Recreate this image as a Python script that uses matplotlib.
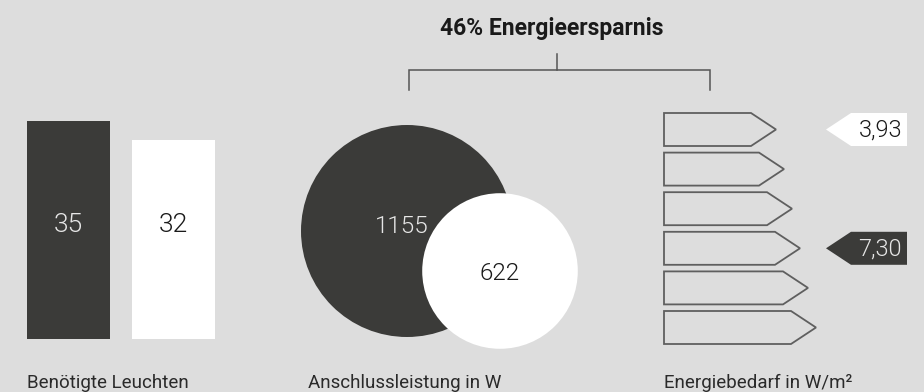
import matplotlib.pyplot as plt
from matplotlib.patches import Circle, Polygon
import numpy as np

# Leuchten (alt / neu)
leuchten = [35, 32]
# Anschlussleistung in W (alt / neu)
leistung = [1155, 622]
# Energiebedarf in W/m² und zugehörige Klassenzeile
bedarf = [3.93, 7.30]
bedarf_zeile = [0, 3]
n_klassen = 6
ersparnis = 46

BG = "#dddddd"
DARK = "#3b3b39"
LINE = "#555555"
W = 300  # leichte Schrift für Zahlen


def fmt(v):
    return f"{v:.2f}".replace(".", ",")


def main():
    plt.rcParams["font.family"] = ["Roboto", "DejaVu Sans"]

    fig = plt.figure(figsize=(9.24, 3.92), dpi=100, facecolor=BG)
    ax = fig.add_axes([0, 0, 1, 1])
    ax.set_facecolor(BG)
    ax.set_xlim(0, 924)
    ax.set_ylim(392, 0)
    ax.axis("off")

    # --- Balken: benötigte Leuchten
    base = 339
    px_per_unit = 218 / leuchten[0]
    xs = [68.5, 173.5]
    colors = [DARK, "white"]
    tcolors = ["#e6e6e6", "#1a1a1a"]
    for x, v, c, tc in zip(xs, leuchten, colors, tcolors):
        h = v * px_per_unit
        ax.bar(x, -h, bottom=base, width=83, color=c, linewidth=0)
        ax.text(x, 225, str(v), ha="center", va="center", fontsize=19,
                color=tc, fontweight=W)
    ax.text(27, 388, "Benötigte Leuchten", ha="left", va="baseline",
            fontsize=13.5, color="#2a2a2a")

    # --- Kreise: Anschlussleistung
    k = 106 / np.sqrt(leistung[0])
    centers = [(407, 231), (500, 271)]
    for (cx, cy), v, c in zip(centers, leistung, colors):
        ax.add_patch(Circle((cx, cy), k * np.sqrt(v), facecolor=c, edgecolor="none"))
    ax.text(402, 226, str(leistung[0]), ha="center", va="center", fontsize=17.5,
            color=tcolors[0], fontweight=W)
    ax.text(500, 273, str(leistung[1]), ha="center", va="center", fontsize=17.5,
            color=tcolors[1], fontweight=W)
    ax.text(308, 388, "Anschlussleistung in W", ha="left", va="baseline",
            fontsize=13.5, color="#2a2a2a")

    # --- Energieklassen-Pfeile
    left, top0, step, hgt, tip_len = 664, 113, 39.6, 33, 25
    for i in range(n_klassen):
        top = top0 + step * i
        tip = 776 + 8 * i
        pts = [(left, top), (tip - tip_len, top), (tip, top + hgt / 2),
               (tip - tip_len, top + hgt), (left, top + hgt)]
        ax.add_patch(Polygon(pts, closed=True, facecolor="none",
                             edgecolor="#5f5f5f", linewidth=1.3))

    # Marker mit Werten
    for v, row, c, tc in zip(bedarf, bedarf_zeile, ["white", DARK], ["#1a1a1a", "#e6e6e6"]):
        top = top0 + step * row
        pts = [(826, top + hgt / 2), (851, top), (907, top), (907, top + hgt), (851, top + hgt)]
        ax.add_patch(Polygon(pts, closed=True, facecolor=c, edgecolor="none"))
        ax.text(902, top + hgt / 2 + 1, fmt(v), ha="right", va="center", fontsize=17,
                color=tc, fontweight=W)
    ax.text(664, 388, "Energiebedarf in W/m²", ha="left", va="baseline",
            fontsize=13.5, color="#2a2a2a")

    # --- Klammer und Titel
    ax.plot([409, 409, 710, 710], [90, 70, 70, 90], color=LINE, linewidth=1.1,
            solid_joinstyle="miter")
    ax.plot([557, 557], [54, 70], color=LINE, linewidth=1.1)
    ax.text(552, 35, f"{ersparnis}% Energieersparnis", ha="center", va="baseline",
            fontsize=16.5, fontweight="bold", color="#1a1a1a")

    fig.savefig("out.png", dpi=100, facecolor=BG)


if __name__ == "__main__":
    main()
